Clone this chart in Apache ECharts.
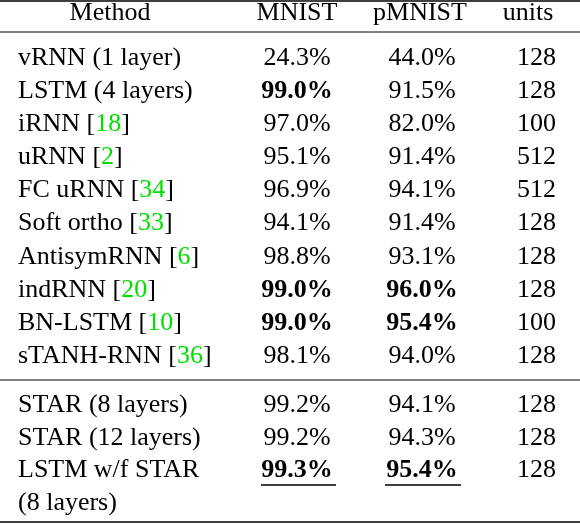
<!DOCTYPE html>
<html>
<head>
<meta charset="utf-8">
<script src="https://cdn.jsdelivr.net/npm/echarts@6/dist/echarts.min.js"></script>
<style>html,body{margin:0;padding:0;background:#fff}#c{width:580px;height:524px}</style>
</head>
<body>
<div id="c"></div>
<script>
// table data
var headers = ['Method', 'MNIST', 'pMNIST', 'units'];
var methods = ['vRNN (1 layer)', 'LSTM (4 layers)', 'iRNN', 'uRNN', 'FC uRNN', 'Soft ortho', 'AntisymRNN', 'indRNN', 'BN-LSTM', 'sTANH-RNN',
	'STAR (8 layers)', 'STAR (12 layers)', 'LSTM w/f STAR'];
var cites = ['', '', '18', '2', '34', '33', '6', '20', '10', '36', '', '', ''];
var mnist = ['24.3%', '99.0%', '97.0%', '95.1%', '96.9%', '94.1%', '98.8%', '99.0%', '99.0%', '98.1%', '99.2%', '99.2%', '99.3%'];
var pmnist = ['44.0%', '91.5%', '82.0%', '91.4%', '94.1%', '91.4%', '93.1%', '96.0%', '95.4%', '94.0%', '94.1%', '94.3%', '95.4%'];
var units = [128, 128, 100, 512, 512, 128, 128, 128, 100, 128, 128, 128, 128];
var boldMnist = [1, 7, 8, 12];
var boldPmnist = [7, 8, 12];

var rowY = [58, 91, 124, 157, 190, 223, 257, 290, 323, 356, 405, 438, 470];
var font = '"Liberation Serif", "DejaVu Serif", serif';
var fs = 26;
var g = [];

function txt(x, y, s, align, bold, rich) {
	g.push({
		type: 'text', x: x, y: y,
		style: {
			text: s, fontFamily: font, fontSize: fs, fill: '#000',
			fontWeight: bold ? 'bold' : 'normal',
			align: align, verticalAlign: 'middle', rich: rich
		}
	});
}
function rule(y, w) {
	g.push({ type: 'line', shape: { x1: 0, y1: y, x2: 580, y2: y }, style: { stroke: '#000', lineWidth: w } });
}

var richC = {
	g: { fill: '#00e000', fontFamily: font, fontSize: fs },
	n: { fill: '#000', fontFamily: font, fontSize: fs }
};

txt(110, 13, headers[0], 'center');
txt(297, 13, headers[1], 'center');
txt(420, 13, headers[2], 'center');
txt(528, 13, headers[3], 'center');

for (var i = 0; i < methods.length; i++) {
	var y = rowY[i];
	var m = cites[i] ? '{n|' + methods[i] + ' [}{g|' + cites[i] + '}{n|]}' : '{n|' + methods[i] + '}';
	txt(18, y, m, 'left', false, richC);
	txt(297, y, mnist[i], 'center', boldMnist.indexOf(i) >= 0);
	txt(422, y, pmnist[i], 'center', boldPmnist.indexOf(i) >= 0);
	txt(556, y, String(units[i]), 'right');
}
txt(18, 503, '(8 layers)', 'left');
// underline the best results
g.push({ type: 'line', shape: { x1: 261, y1: 485, x2: 336, y2: 485 }, style: { stroke: '#000', lineWidth: 1.3 } });
g.push({ type: 'line', shape: { x1: 385, y1: 485, x2: 461, y2: 485 }, style: { stroke: '#000', lineWidth: 1.3 } });

rule(1, 1.5);
rule(32, 1);
rule(380, 1);
rule(522, 1.5);

var chart = echarts.init(document.getElementById('c'));
chart.setOption({ animation: false, graphic: g });
</script>
</body>
</html>
